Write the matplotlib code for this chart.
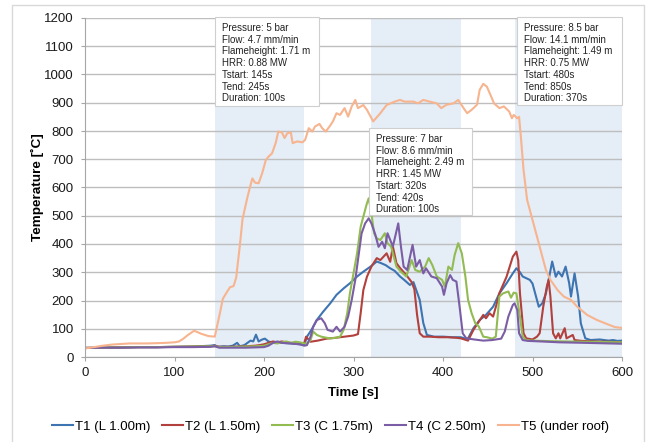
import matplotlib
matplotlib.use("Agg")
import matplotlib.pyplot as plt
from matplotlib.patches import Rectangle

plt.rcParams['font.family'] = ['Liberation Sans', 'DejaVu Sans']

# ---- data --------------------------------------------------------------
t1_time = [0, 20, 40, 60, 80, 100, 120, 140, 145, 148, 155, 160, 165, 170, 173, 178, 185, 188, 191, 194,
           198, 201, 205, 210, 215, 220, 230, 240, 245, 248, 253, 259, 266, 274, 281, 289, 296, 304, 311, 319,
           326, 331, 336, 341, 346, 352, 357, 363, 367, 370, 374, 378, 382, 390, 400, 410, 420, 425, 428, 434,
           441, 448, 456, 463, 471, 478, 482, 486, 489, 493, 497, 500, 503, 507, 511, 515, 518, 522, 526, 529,
           533, 537, 541, 543, 547, 551, 554, 559, 565, 575, 585, 590, 595, 600]
t1_temp = [32, 33, 34, 35, 35, 36, 37, 40, 42, 36, 38, 37, 40, 50, 38, 42, 58, 55, 79, 55,
           62, 65, 55, 50, 52, 50, 48, 45, 42, 72, 96, 131, 160, 190, 220, 243, 261, 285, 302, 320,
           338, 332, 325, 314, 305, 285, 272, 255, 265, 238, 202, 120, 78, 72, 72, 70, 70, 65, 66, 102,
           131, 149, 178, 225, 261, 296, 314, 300, 285, 279, 273, 260, 225, 178, 190, 225, 273, 338, 284, 302,
           285, 320, 261, 214, 296, 214, 119, 66, 60, 62, 58, 60, 57, 58]

t2_time = [0, 20, 40, 60, 80, 100, 120, 140, 145, 150, 160, 170, 180, 190, 195, 200, 205, 210, 215, 220,
           225, 230, 235, 240, 245, 247, 252, 260, 270, 280, 290, 300, 305, 308, 311, 315, 320, 326, 330, 337,
           341, 344, 348, 352, 359, 365, 368, 371, 374, 378, 385, 395, 405, 415, 420, 428, 434, 439, 445, 448,
           452, 456, 461, 463, 471, 478, 482, 484, 486, 490, 493, 500, 505, 508, 512, 516, 518, 520, 523, 526,
           529, 531, 536, 538, 545, 547, 555, 570, 585, 600]
t2_temp = [32, 33, 34, 35, 35, 36, 37, 38, 40, 36, 36, 37, 38, 40, 42, 45, 50, 55, 52, 55,
           52, 50, 48, 47, 50, 72, 54, 58, 65, 68, 72, 76, 81, 155, 237, 284, 320, 350, 343, 367,
           337, 391, 332, 315, 290, 265, 240, 150, 84, 72, 72, 70, 70, 68, 66, 58, 96, 120, 149, 137,
           155, 143, 200, 226, 284, 355, 373, 343, 225, 84, 66, 62, 72, 84, 178, 249, 273, 214, 84, 66,
           84, 66, 102, 66, 78, 60, 57, 55, 54, 52]

t3_time = [0, 20, 40, 60, 80, 100, 120, 140, 145, 150, 160, 170, 180, 190, 200, 205, 210, 215, 220, 225,
           230, 235, 240, 245, 248, 252, 255, 259, 264, 270, 274, 280, 285, 289, 293, 296, 300, 304, 308, 311,
           315, 317, 320, 323, 326, 330, 335, 338, 342, 348, 353, 359, 365, 369, 374, 380, 384, 388, 393, 399,
           402, 406, 410, 413, 417, 421, 425, 428, 432, 436, 440, 445, 449, 455, 459, 463, 467, 473, 476, 479,
           482, 486, 489, 493, 500, 520, 540, 560, 580, 600]
t3_temp = [32, 33, 34, 35, 35, 36, 37, 38, 38, 35, 35, 36, 37, 38, 40, 45, 50, 48, 52, 55,
           50, 54, 52, 48, 48, 60, 90, 78, 72, 68, 66, 68, 72, 96, 155, 226, 296, 367, 461, 497,
           544, 562, 509, 438, 420, 414, 438, 403, 391, 320, 302, 285, 343, 308, 302, 320, 350, 326, 285, 273,
           249, 320, 308, 361, 403, 367, 285, 202, 155, 120, 108, 72, 70, 65, 72, 214, 225, 232, 210, 228,
           225, 143, 72, 60, 58, 56, 55, 54, 53, 52]

t4_time = [0, 20, 40, 60, 80, 100, 120, 140, 145, 150, 160, 170, 180, 190, 200, 205, 210, 215, 220, 230,
           240, 245, 248, 252, 255, 259, 264, 268, 271, 277, 281, 285, 290, 294, 298, 302, 306, 309, 313, 317,
           320, 324, 328, 332, 335, 338, 344, 350, 353, 356, 360, 366, 370, 374, 378, 381, 387, 393, 399, 401,
           404, 408, 411, 415, 419, 422, 426, 435, 445, 455, 465, 469, 473, 478, 480, 483, 485, 489, 495, 510,
           530, 560, 600]
t4_temp = [32, 33, 33, 34, 34, 35, 35, 36, 38, 33, 33, 33, 33, 34, 35, 40, 50, 55, 50, 48,
           45, 40, 42, 72, 107, 131, 137, 119, 96, 90, 107, 90, 107, 143, 202, 273, 367, 437, 473, 491,
           473, 437, 390, 408, 385, 438, 391, 473, 391, 320, 308, 397, 320, 343, 296, 314, 285, 279, 249, 220,
           261, 290, 273, 267, 166, 84, 66, 62, 58, 60, 65, 90, 143, 184, 190, 166, 84, 60, 57, 55,
           52, 50, 47]

t5_time = [0, 10, 20, 30, 50, 70, 90, 100, 105, 110, 115, 122, 130, 138, 145, 151, 154, 158, 162, 166,
           169, 170, 173, 176, 181, 184, 187, 190, 194, 198, 202, 205, 209, 213, 216, 220, 223, 226, 230, 232,
           237, 243, 246, 250, 254, 257, 262, 265, 269, 273, 277, 281, 285, 290, 294, 298, 302, 305, 311, 315,
           322, 330, 337, 346, 352, 357, 367, 372, 378, 385, 393, 398, 404, 412, 417, 423, 427, 432, 438, 441,
           445, 449, 453, 457, 463, 468, 474, 477, 479, 483, 485, 487, 490, 494, 499, 503, 507, 511, 515, 520,
           528, 535, 543, 550, 561, 572, 583, 592, 600]
t5_temp = [30, 35, 40, 44, 48, 48, 50, 52, 55, 65, 78, 93, 82, 74, 72, 159, 206, 227, 247, 251,
           282, 312, 394, 488, 559, 597, 632, 617, 615, 651, 697, 709, 721, 757, 798, 795, 775, 792, 795, 757,
           763, 760, 769, 810, 798, 816, 825, 810, 798, 815, 834, 863, 857, 881, 851, 887, 910, 881, 892, 875,
           834, 863, 892, 904, 910, 904, 904, 898, 910, 904, 898, 881, 893, 898, 910, 881, 863, 875, 893, 946,
           967, 957, 928, 898, 881, 887, 869, 845, 857, 845, 850, 780, 662, 556, 497, 450, 403, 355, 308, 273,
           237, 214, 202, 178, 149, 131, 117, 106, 103]

labels = ["T1 (L 1.00m)", "T2 (L 1.50m)", "T3 (C 1.75m)", "T4 (C 2.50m)", "T5 (under roof)"]
colors = ["#3D74B1", "#B2403C", "#92BB52", "#7B5DA5", "#F7B48E"]

phase_start = [145, 320, 480]
phase_end = [245, 420, 850]
phase_text = [
    ["Pressure: 5 bar", "Flow: 4.7 mm/min", "Flameheight: 1.71 m", "HRR: 0.88 MW",
     "Tstart: 145s", "Tend: 245s", "Duration: 100s"],
    ["Pressure: 7 bar", "Flow: 8.6 mm/min", "Flameheight: 2.49 m", "HRR: 1.45 MW",
     "Tstart: 320s", "Tend: 420s", "Duration: 100s"],
    ["Pressure: 8.5 bar", "Flow: 14.1 mm/min", "Flameheight: 1.49 m", "HRR: 0.75 MW",
     "Tstart: 480s", "Tend: 850s", "Duration: 370s"],
]
# box corners (x0, x1, y0, y1) in data units
box_pos = [(145, 261.5, 889, 1203), (317.7, 432.8, 503, 810), (483, 599.6, 893, 1203)]

series = [(t1_time, t1_temp), (t2_time, t2_temp), (t3_time, t3_temp),
          (t4_time, t4_temp), (t5_time, t5_temp)]

# ---- plot ---------------------------------------------------------------
fig = plt.figure(figsize=(6.5, 4.42), dpi=100)
ax = fig.add_axes([85 / 650, 1 - 357 / 442, (622 - 85) / 650, (357 - 18) / 442])

fig.patches.append(Rectangle((12 / 650, -0.05), (644 - 12) / 650, 1.05 - 5 / 442,
                             transform=fig.transFigure, fill=False, ec="#D9D9D9", lw=1.0))

for s, e in zip(phase_start, phase_end):
    ax.axvspan(s, min(e, 600), color="#E5EDF7", lw=0, zorder=0.2)

for (t, v), c, lab in zip(series, colors, labels):
    ax.plot(t, v, color=c, lw=1.5, label=lab, zorder=2)

ax.set_xlim(0, 600)
ax.set_ylim(0, 1200)
ax.set_xticks(range(0, 601, 100))
ax.set_yticks(range(0, 1201, 100))
ax.set_axisbelow(True)
ax.yaxis.grid(True, color="#BEBEBE", lw=1.0)
for sp in ["top", "right"]:
    ax.spines[sp].set_visible(False)
for sp in ["left", "bottom"]:
    ax.spines[sp].set_color("#A6A6A6")
ax.tick_params(direction="out", length=3, color="#A6A6A6", labelsize=9.5, labelcolor="#1A1A1A")
ax.tick_params(axis="x", pad=4)
ax.tick_params(axis="y", pad=5)
ax.set_xlabel("Time [s]", fontsize=9.5, fontweight="bold", labelpad=6)
ax.set_ylabel("Temperature [\u02daC]", fontsize=9.7, fontweight="bold", labelpad=0)

for (x0, x1, y0, y1), lines in zip(box_pos, phase_text):
    ax.add_patch(Rectangle((x0, y0), x1 - x0, y1 - y0, fc="white", ec="#CFCFCF",
                           lw=0.8, zorder=5, clip_on=False))
    for i, line in enumerate(lines):
        ax.annotate(line, xy=(x0, y1), xycoords="data", xytext=(5, -7.7 - i * 8.45),
                    textcoords="offset points", ha="left", va="center", fontsize=7,
                    color="#222222", zorder=6, annotation_clip=False)

fig.legend(loc="center", bbox_to_anchor=(0.508, 0.034), ncol=5, frameon=False,
           fontsize=9.5, handlelength=1.6, handletextpad=0.15, columnspacing=0.9)

fig.savefig("out.png", dpi=100)
